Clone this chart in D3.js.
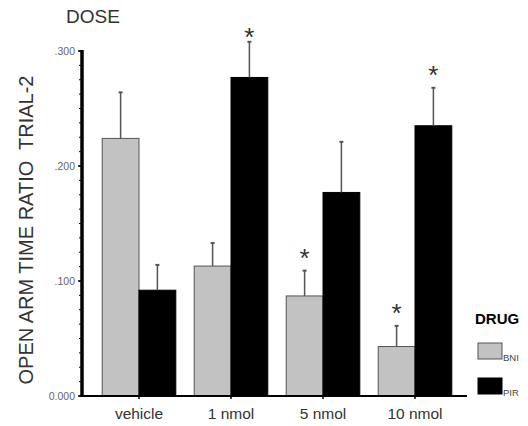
<!DOCTYPE html>
<html>
<head>
<meta charset="utf-8">
<script src="https://cdn.jsdelivr.net/npm/d3@7"></script>
<style>
  html, body { margin: 0; padding: 0; background: #fff; }
  svg { display: block; font-family: "Liberation Sans", Arial, sans-serif; }
</style>
</head>
<body>
<svg id="chart" width="528" height="426"></svg>
<script>
// Dose groups and drugs
const doses = ["vehicle", "1 nmol", "5 nmol", "10 nmol"];
const drugs = ["BNI", "PIR"];

// Mean open-arm time ratio (trial 2) per dose, one array per drug
const bniMean = [0.224, 0.113, 0.087, 0.043];
const pirMean = [0.092, 0.277, 0.177, 0.235];

// Upper SEM per dose
const bniErr = [0.040, 0.020, 0.022, 0.018];
const pirErr = [0.022, 0.031, 0.044, 0.033];

// Significance markers
const bniSig = [false, false, true, true];
const pirSig = [false, true, false, true];

const yTicks = [0, 0.1, 0.2, 0.3];
const yTickLabels = ["0.000", ".100", ".200", ".300"];

const colors = { BNI: "#c2c2c2", PIR: "#000000" };

const svg = d3.select("#chart");

const x = d3.scaleBand().domain(doses).range([93, 461]).paddingInner(0.2).paddingOuter(0.1);
const xd = d3.scaleBand().domain(drugs).range([0, x.bandwidth()]);
const y = d3.scaleLinear().domain([0, 0.3]).range([396, 51]);

const rows = [];
doses.forEach((d, i) => {
  rows.push({ dose: d, drug: "BNI", mean: bniMean[i], err: bniErr[i], sig: bniSig[i] });
  rows.push({ dose: d, drug: "PIR", mean: pirMean[i], err: pirErr[i], sig: pirSig[i] });
});

// Bars
svg.append("g").selectAll("rect").data(rows).join("rect")
  .attr("x", d => x(d.dose) + xd(d.drug))
  .attr("y", d => y(d.mean))
  .attr("width", xd.bandwidth())
  .attr("height", d => y(0) - y(d.mean))
  .attr("fill", d => colors[d.drug])
  .attr("stroke", d => d.drug === "BNI" ? "#555" : "#000")
  .attr("stroke-width", 1);

// Error bars (upper only)
const eb = svg.append("g").attr("stroke", "#555").attr("stroke-width", 1.5);
eb.selectAll("line.v").data(rows).join("line").attr("class", "v")
  .attr("x1", d => x(d.dose) + xd(d.drug) + xd.bandwidth() / 2)
  .attr("x2", d => x(d.dose) + xd(d.drug) + xd.bandwidth() / 2)
  .attr("y1", d => y(d.mean))
  .attr("y2", d => y(d.mean + d.err));
eb.selectAll("line.c").data(rows).join("line").attr("class", "c")
  .attr("x1", d => x(d.dose) + xd(d.drug) + xd.bandwidth() / 2 - 2)
  .attr("x2", d => x(d.dose) + xd(d.drug) + xd.bandwidth() / 2 + 2)
  .attr("y1", d => y(d.mean + d.err))
  .attr("y2", d => y(d.mean + d.err))
  .attr("stroke-width", 2);

// Significance asterisks
svg.append("g").selectAll("text").data(rows.filter(d => d.sig)).join("text")
  .attr("x", d => x(d.dose) + xd(d.drug) + xd.bandwidth() / 2)
  .attr("y", d => Math.max(y(d.mean + d.err) - 4, 46))
  .attr("text-anchor", "middle")
  .attr("font-size", 26)
  .attr("fill", "#333")
  .text("*");

// Y axis
const yAxis = svg.append("g").attr("transform", "translate(82,0)");
yAxis.append("line").attr("x1", 0).attr("x2", 0).attr("y1", y(0.3) - 1).attr("y2", y(0) + 1)
  .attr("stroke", "#000").attr("stroke-width", 3.5);
yAxis.selectAll("line.minor").data(d3.range(0, 0.3001, 0.0125)).join("line").attr("class", "minor")
  .attr("x1", -3).attr("x2", 0).attr("y1", d => y(d)).attr("y2", d => y(d))
  .attr("stroke", "#000").attr("stroke-width", 1);
yAxis.selectAll("line.major").data(yTicks).join("line").attr("class", "major")
  .attr("x1", -4).attr("x2", 0).attr("y1", d => y(d)).attr("y2", d => y(d))
  .attr("stroke", "#000").attr("stroke-width", 1.5);
yAxis.selectAll("text").data(yTicks).join("text")
  .attr("x", -7).attr("y", d => y(d) + 3.5)
  .attr("text-anchor", "end").attr("font-size", 10.5).attr("fill", "#666")
  .text((d, i) => yTickLabels[i]);

// X axis
const xAxis = svg.append("g").attr("transform", `translate(0,${y(0)})`);
xAxis.append("line").attr("x1", 82).attr("x2", 467).attr("y1", 0).attr("y2", 0)
  .attr("stroke", "#000").attr("stroke-width", 2);
xAxis.selectAll("line.t").data(doses).join("line").attr("class", "t")
  .attr("x1", d => x(d) + x.bandwidth() / 2).attr("x2", d => x(d) + x.bandwidth() / 2)
  .attr("y1", 0).attr("y2", 3).attr("stroke", "#000").attr("stroke-width", 1.5);
xAxis.selectAll("text").data(doses).join("text")
  .attr("x", d => x(d) + x.bandwidth() / 2).attr("y", 23)
  .attr("text-anchor", "middle").attr("font-size", 15.5).attr("fill", "#333")
  .text(d => d);

// Axis titles
svg.append("text").attr("x", 66).attr("y", 23).attr("font-size", 19).attr("fill", "#333").text("DOSE");
svg.append("text")
  .attr("transform", "translate(33,230) rotate(-90)")
  .attr("text-anchor", "middle").attr("font-size", 20).attr("fill", "#333")
  .attr("xml:space", "preserve")
  .text("OPEN ARM TIME RATIO  TRIAL-2");

// Legend
const lg = svg.append("g");
lg.append("text").attr("x", 475).attr("y", 324).attr("font-size", 15).attr("font-weight", "bold")
  .attr("fill", "#000").text("DRUG");
drugs.forEach((d, i) => {
  const yy = 343 + i * 35;
  lg.append("rect").attr("x", 478).attr("y", yy).attr("width", 24).attr("height", 16)
    .attr("fill", colors[d]).attr("stroke", d === "BNI" ? "#555" : "#000").attr("stroke-width", 1);
  lg.append("text").attr("x", 503).attr("y", yy + 18).attr("font-size", 9.5).attr("fill", "#444").text(d);
});
</script>
</body>
</html>
